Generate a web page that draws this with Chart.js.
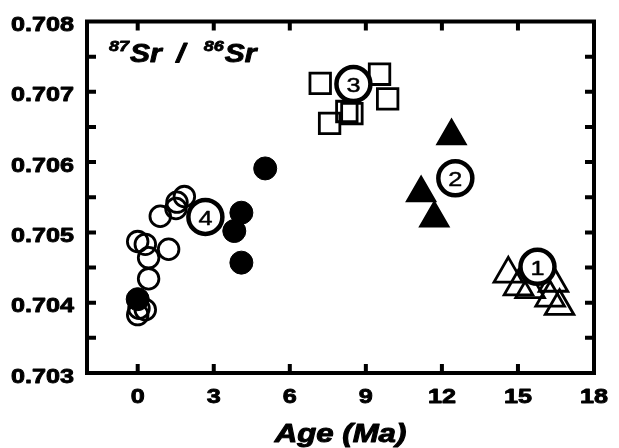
<!DOCTYPE html>
<html>
<head>
<meta charset="utf-8">
<title>87Sr/86Sr vs age</title>
<script src="https://cdn.jsdelivr.net/npm/chart.js@4.4.0/dist/chart.umd.min.js"></script>
<style>
  html, body { margin: 0; padding: 0; background: #fff; }
  #wrap { width: 619px; height: 448px; position: relative; }
</style>
</head>
<body>
<div id="wrap"><canvas id="srChart"></canvas></div>
<script>
// axis ticks
const xTicks = [0, 3, 6, 9, 12, 15, 18];
const yTicks = [0.703, 0.704, 0.705, 0.706, 0.707, 0.708];

// group 4, open circles
const openCircleAge = [1.84, 1.55, 1.51, 0.89, 0.0, 0.30, 1.22, 0.43, 0.43, 0.05, 0.30, 0.0];
const openCircleSr  = [0.70551, 0.70543, 0.70534, 0.70523, 0.70487, 0.70483, 0.70476, 0.70464, 0.70434, 0.70392, 0.70390, 0.70383];

// group 4, filled circles
const filledCircleAge = [0.0, 4.09, 3.81, 4.09, 5.03];
const filledCircleSr  = [0.70405, 0.70528, 0.70502, 0.70457, 0.70591];

// group 3, open squares
const squareAge = [7.20, 9.54, 9.86, 8.25, 8.45, 7.57];
const squareSr  = [0.70712, 0.70725, 0.70690, 0.70672, 0.70669, 0.70655];

// group 2, filled triangles
const filledTriAge = [12.38, 11.18, 11.70];
const filledTriSr  = [0.70637, 0.70556, 0.70520];

// group 1, open triangles
const openTriAge = [14.62, 15.02, 15.48, 16.40, 16.27, 16.64];
const openTriSr  = [0.70441, 0.70423, 0.70419, 0.70428, 0.70407, 0.70395];

// numbered group markers
const groupNames = ['1', '2', '3', '4'];
const groupAge   = [15.77, 12.53, 8.51, 2.67];
const groupSr    = [0.70451, 0.70577, 0.70711, 0.70522];

const FONT = '"Liberation Sans", Arial, sans-serif';
const STRETCH = 1.2;

const toPoints = (xs, ys) => xs.map((v, i) => ({ x: v, y: ys[i] }));

// text widened a little and optionally outlined to make it heavier
function wideText(ctx, text, x, y, font, align, weight) {
  ctx.save();
  ctx.font = font;
  ctx.textAlign = align;
  ctx.textBaseline = 'alphabetic';
  ctx.translate(x, y);
  ctx.scale(STRETCH, 1);
  ctx.fillText(text, 0, 0);
  if (weight) {
    ctx.lineWidth = weight;
    ctx.lineJoin = 'round';
    ctx.strokeText(text, 0, 0);
  }
  ctx.restore();
}

function textWidth(ctx, text, font) {
  ctx.save();
  ctx.font = font;
  const w = ctx.measureText(text).width * STRETCH;
  ctx.restore();
  return w;
}

// frame, inward ticks and all the lettering
const framePlugin = {
  id: 'frame',
  afterDatasetsDraw(chart) {
    const { ctx, chartArea: a, scales: { x, y } } = chart;
    ctx.save();
    ctx.strokeStyle = '#000';
    ctx.fillStyle = '#000';
    ctx.lineWidth = 4;
    ctx.strokeRect(a.left, a.top, a.right - a.left, a.bottom - a.top);

    const len = 9;
    ctx.beginPath();
    xTicks.forEach(v => {
      if (v <= x.min || v >= x.max) return;
      const px = x.getPixelForValue(v);
      ctx.moveTo(px, a.bottom); ctx.lineTo(px, a.bottom - len);
      ctx.moveTo(px, a.top); ctx.lineTo(px, a.top + len);
    });
    for (let i = 0; i < yTicks.length; i++) {
      const vals = [yTicks[i]];
      if (i < yTicks.length - 1) vals.push((yTicks[i] + yTicks[i + 1]) / 2);
      vals.forEach(v => {
        if (v <= y.min + 1e-9 || v >= y.max - 1e-9) return;
        const py = y.getPixelForValue(v);
        ctx.moveTo(a.left, py); ctx.lineTo(a.left + len, py);
        ctx.moveTo(a.right, py); ctx.lineTo(a.right - len, py);
      });
    }
    ctx.stroke();

    const tickFont = 'bold 21px ' + FONT;
    xTicks.forEach(v => {
      wideText(ctx, String(v), x.getPixelForValue(v), a.bottom + 30, tickFont, 'center', 0.9);
    });
    yTicks.forEach(v => {
      wideText(ctx, v.toFixed(3), a.left - 13, y.getPixelForValue(v) + 9.5, tickFont, 'right', 0.9);
    });

    wideText(ctx, 'Age (Ma)', (a.left + a.right) / 2, 442, 'bold italic 26px ' + FONT, 'center', 1);

    // 87Sr / 86Sr, superscript mass numbers
    const supFont = 'bold italic 15px ' + FONT;
    const mainFont = 'bold italic 25px ' + FONT;
    let cx = 109;
    wideText(ctx, '87', cx, 51, supFont, 'left', 0.8);
    cx += textWidth(ctx, '87', supFont) + 1;
    wideText(ctx, 'Sr', cx, 61.5, mainFont, 'left', 0.9);
    cx += textWidth(ctx, 'Sr', mainFont);
    wideText(ctx, '/', cx + 19, 61.5, mainFont, 'center', 0.9);
    cx += 42;
    wideText(ctx, '86', cx, 51, supFont, 'left', 0.8);
    cx += textWidth(ctx, '86', supFont) + 1;
    wideText(ctx, 'Sr', cx, 61.5, mainFont, 'left', 0.9);

    // numbers inside the group markers
    groupNames.forEach((n, i) => {
      wideText(ctx, n, x.getPixelForValue(groupAge[i]), y.getPixelForValue(groupSr[i]) + 7.8, '21px ' + FONT, 'center', 0.5);
    });
    ctx.restore();
  }
};

new Chart(document.getElementById('srChart'), {
  type: 'scatter',
  data: {
    datasets: [
      {
        label: 'groups',
        data: toPoints(groupAge, groupSr),
        pointStyle: 'circle',
        pointRadius: 17,
        borderWidth: 4.5,
        borderColor: '#000',
        backgroundColor: '#fff'
      },
      {
        label: 'open triangles',
        data: toPoints(openTriAge, openTriSr),
        pointStyle: 'triangle',
        pointRadius: 16.5,
        borderWidth: 2.8,
        borderColor: '#000',
        backgroundColor: 'rgba(0,0,0,0)'
      },
      {
        label: 'filled triangles',
        data: toPoints(filledTriAge, filledTriSr),
        pointStyle: 'triangle',
        pointRadius: 16.5,
        borderWidth: 2,
        borderColor: '#000',
        backgroundColor: '#000'
      },
      {
        label: 'squares',
        data: toPoints(squareAge, squareSr),
        pointStyle: 'rect',
        pointRadius: 14.5,
        borderWidth: 2.8,
        borderColor: '#000',
        backgroundColor: 'rgba(0,0,0,0)'
      },
      {
        label: 'open circles',
        data: toPoints(openCircleAge, openCircleSr),
        pointStyle: 'circle',
        pointRadius: 10.3,
        borderWidth: 2.8,
        borderColor: '#000',
        backgroundColor: 'rgba(0,0,0,0)'
      },
      {
        label: 'filled circles',
        data: toPoints(filledCircleAge, filledCircleSr),
        pointStyle: 'circle',
        pointRadius: 11.5,
        borderWidth: 1,
        borderColor: '#000',
        backgroundColor: '#000'
      }
    ]
  },
  options: {
    responsive: true,
    maintainAspectRatio: false,
    animation: false,
    events: [],
    clip: false,
    layout: { padding: { left: 87, right: 25, top: 17, bottom: 75 } },
    plugins: { legend: { display: false }, tooltip: { enabled: false } },
    scales: {
      x: { type: 'linear', min: -2, max: 18, display: false },
      y: { type: 'linear', min: 0.703, max: 0.708, display: false }
    }
  },
  plugins: [framePlugin]
});
</script>
</body>
</html>
